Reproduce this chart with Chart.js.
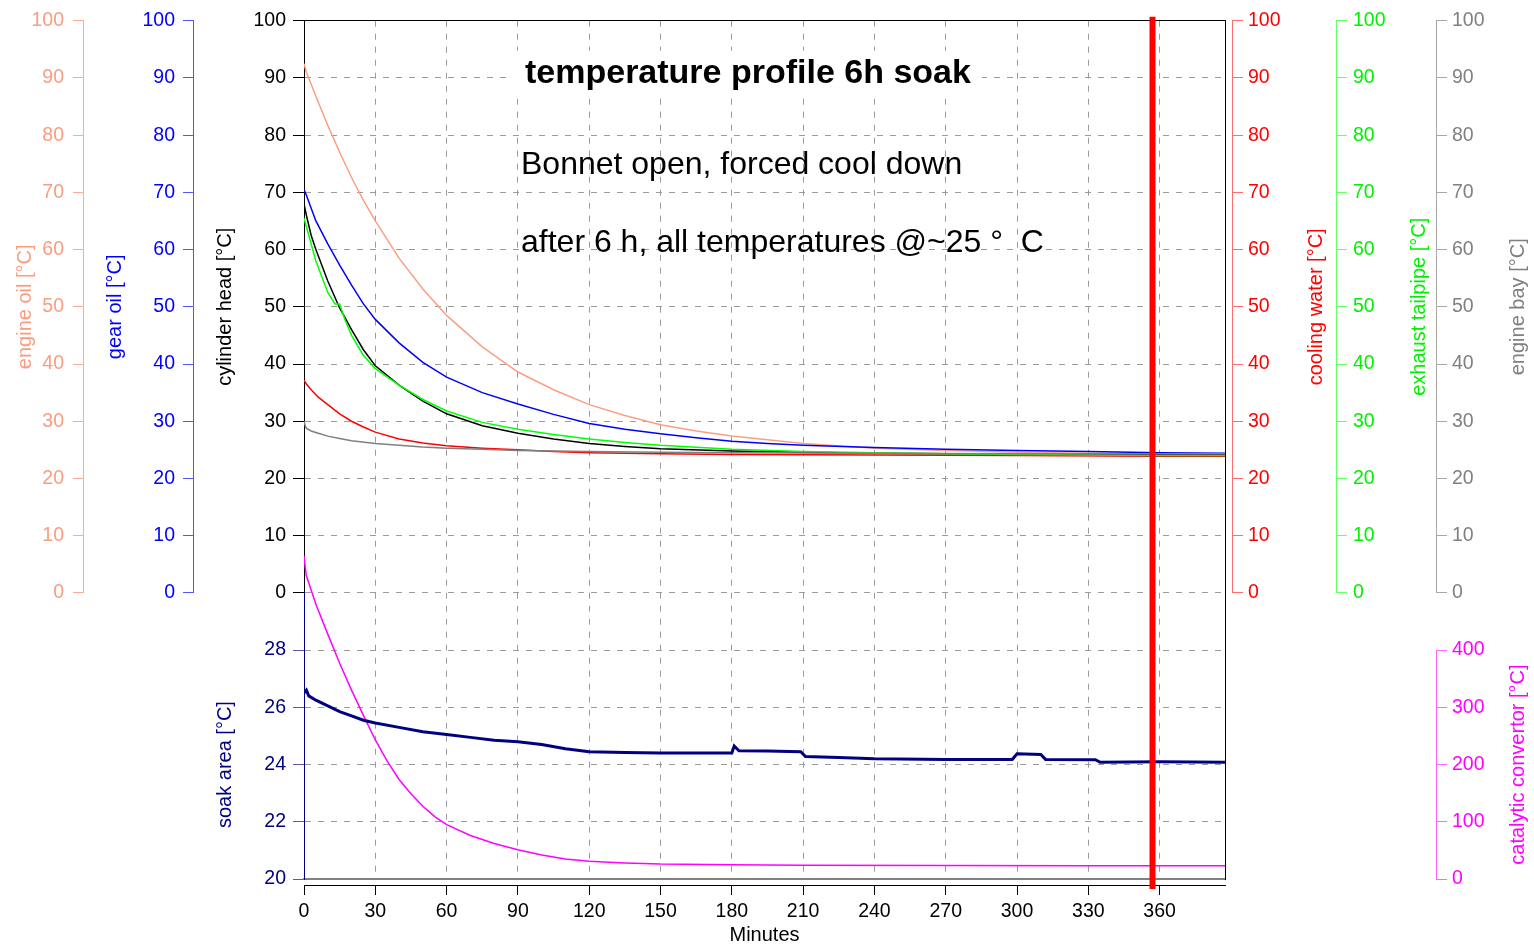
<!DOCTYPE html>
<html>
<head>
<meta charset="utf-8">
<title>temperature profile 6h soak</title>
<script src="https://cdn.jsdelivr.net/npm/chart.js@4.4.1/dist/chart.umd.min.js"></script>
<style>
  html, body { margin: 0; padding: 0; background: #fff; }
  #wrap { width: 1534px; height: 947px; }
</style>
</head>
<body>
<div id="wrap"><canvas id="myChart"></canvas></div>
<script>
// readings of the 6 h soak, time in minutes after engine off
const tEngineOil = [0, 1, 5, 10, 15, 20, 25, 30, 40, 50, 60, 75, 90, 105, 120, 135, 150, 165, 180, 210, 240, 270, 300, 330, 360, 388];
const engineOil  = [92.5, 91, 86.8, 81.7, 77.0, 72.6, 68.6, 65.0, 58.5, 53.1, 48.5, 43.0, 38.6, 35.5, 32.9, 31.0, 29.4, 28.3, 27.4, 26.1, 25.3, 24.9, 24.6, 24.4, 24.3, 24.3];

const tGearOil = [0, 1, 5, 10, 15, 20, 25, 30, 40, 50, 60, 75, 90, 105, 120, 135, 150, 165, 180, 195, 210, 240, 270, 300, 330, 360, 388];
const gearOil  = [70.5, 69.5, 65, 61, 57.3, 53.8, 50.5, 47.8, 43.7, 40.3, 37.7, 35.0, 33.0, 31.2, 29.6, 28.6, 27.8, 27.1, 26.5, 26.1, 25.8, 25.4, 25.1, 24.9, 24.7, 24.5, 24.4];

const tCylHead = [0, 1, 3, 5, 10, 15, 20, 25, 30, 40, 50, 60, 75, 90, 105, 120, 135, 150, 180, 210, 240, 270, 300, 330, 360, 388];
const cylHead  = [68, 66, 62.5, 60, 54.5, 49.8, 46, 42.5, 39.7, 36.3, 33.5, 31.3, 29.2, 27.9, 26.9, 26.1, 25.6, 25.2, 24.8, 24.6, 24.4, 24.3, 24.3, 24.2, 24.2, 24.2];

const tExhaust = [0, 1, 3, 5, 10, 13, 15, 17, 20, 25, 30, 40, 50, 60, 75, 90, 105, 120, 135, 150, 180, 210, 240, 270, 300, 330, 360, 388];
const exhaust  = [65.5, 64, 61, 58, 52.5, 50.5, 50.5, 48, 45, 41.5, 39.2, 36.3, 33.8, 31.8, 29.8, 28.6, 27.7, 26.9, 26.3, 25.8, 25.1, 24.7, 24.5, 24.3, 24.2, 24.1, 24.0, 24.0];

const tCooling = [0, 1, 3, 6, 10, 15, 20, 25, 30, 40, 50, 60, 75, 90, 105, 120, 150, 180, 240, 300, 360, 388];
const cooling  = [37.2, 36.5, 35.5, 34.2, 32.9, 31.3, 30.0, 29.0, 28.1, 26.9, 26.2, 25.7, 25.3, 25.0, 24.7, 24.5, 24.3, 24.2, 24.1, 24.0, 23.9, 23.9];

const tEngineBay = [0, 0.5, 1, 3, 6, 10, 15, 20, 30, 40, 50, 60, 75, 90, 105, 120, 150, 180, 240, 300, 360, 388];
const engineBay  = [30.0, 29.2, 28.8, 28.3, 27.9, 27.4, 27.0, 26.6, 26.1, 25.8, 25.5, 25.3, 25.1, 24.9, 24.8, 24.7, 24.6, 24.5, 24.4, 24.3, 24.3, 24.3];

const tSoak = [0, 1, 2, 5, 10, 15, 20, 25, 30, 40, 50, 60, 70, 80, 90, 100, 110, 120, 135, 150, 165, 180, 181, 183, 195, 209, 211, 225, 240, 270, 298, 300, 310, 312, 333, 335, 360, 388];
const soak  = [26.5, 26.6, 26.4, 26.25, 26.05, 25.85, 25.7, 25.55, 25.45, 25.3, 25.15, 25.05, 24.95, 24.85, 24.8, 24.7, 24.55, 24.45, 24.42, 24.4, 24.4, 24.4, 24.65, 24.48, 24.47, 24.45, 24.28, 24.25, 24.2, 24.18, 24.18, 24.38, 24.35, 24.18, 24.17, 24.08, 24.1, 24.08];

const tCatalyst = [0, 0.5, 1, 3, 5, 10, 15, 20, 25, 30, 35, 40, 45, 50, 55, 60, 70, 80, 90, 100, 110, 120, 135, 150, 180, 210, 270, 330, 388];
const catalyst  = [565, 545, 530, 505, 480, 428, 377, 330, 286, 243, 206, 174, 149, 127, 109, 95, 76, 62, 51, 42, 35, 31, 28, 26, 25, 24, 23.5, 23, 23];

const markerTime = 357;   // 6 h mark
const xMax = 387.5;

const heading = 'temperature profile 6h soak';
const notes = ['Bonnet open, forced cool down', 'after 6 h, all temperatures @~25 °  C'];

const FONT = "'Liberation Sans', Arial, sans-serif";
const GRID = '#9b9b9b';
const gridDash = ctx => ctx.type === 'tick' ? [6, 7] : [];
const none = 'rgba(0,0,0,0)';

Chart.defaults.font.family = FONT;

function pts(ts, vs) {
  return ts.map((t, i) => ({x: t, y: vs[i]}));
}

function line(label, ts, vs, color, yAxisID, width) {
  return {
    label: label,
    data: pts(ts, vs),
    borderColor: color,
    borderWidth: width || 1.5,
    pointRadius: 0,
    tension: 0,
    xAxisID: 'x',
    yAxisID: yAxisID
  };
}

// one 0..100 axis drawn beside the plot (ticks only, no grid inside)
function valueAxis(pos, stack, weight, width, color, lineColor, tickLen, pad) {
  return {
    type: 'linear', axis: 'y', position: pos, stack: stack, stackWeight: 2, weight: weight,
    min: 0, max: 100,
    afterFit: s => { s.width = width; },
    border: {color: lineColor, width: 1},
    grid: {drawOnChartArea: false, color: lineColor, tickColor: lineColor, tickLength: tickLen, tickBorderDash: []},
    ticks: {stepSize: 10, color: color, padding: pad, font: {size: 19.5}},
    title: {display: false}
  };
}

// empty lower half of a stack, keeps the upper axis off the soak panel
function padAxis(pos, stack, weight, width) {
  return {
    type: 'linear', axis: 'y', position: pos, stack: stack, stackWeight: 1, weight: weight,
    min: 0, max: 1, display: false,
    afterFit: s => { s.width = width; }
  };
}

function leftTitle(text, color, padTop) {
  return {display: true, text: text, color: color, font: {size: 20}, padding: {top: padTop, bottom: 0}};
}

const yOil = valueAxis('left', 'oil', 6, 83, '#F99D80', '#F8AC92', 10, 9);
yOil.title = leftTitle('engine oil [°C]', '#F99D80', 13);
const yGear = valueAxis('left', 'gear', 4, 110, '#0000FF', '#5555FF', 10, 8);
yGear.title = leftTitle('gear oil [°C]', '#0000FF', 20);
const yCyl = valueAxis('left', 'cyl', 2, 111, '#000', '#000', 11, 7);
yCyl.title = leftTitle('cylinder head [°C]', '#000', 20);
yCyl.grid = {
  drawOnChartArea: true,
  color: ctx => ctx.tick && ctx.tick.value === 100 ? none : GRID,
  tickColor: '#000', tickLength: 11, tickBorderDash: []
};
yCyl.border = {color: '#000', width: 1, dash: gridDash};

const ySoak = {
  type: 'linear', axis: 'y', position: 'left', stack: 'cyl', stackWeight: 1, weight: 1,
  min: 20, max: 30,
  afterFit: s => { s.width = 111; },
  afterBuildTicks: s => { s.ticks = s.ticks.filter(t => t.value < 30); },
  border: {color: '#000080', width: 1, dash: gridDash},
  grid: {
    color: ctx => ctx.tick && ctx.tick.value === 20 ? none : GRID,
    tickColor: '#5B5BA6', tickLength: 11, tickBorderDash: []
  },
  ticks: {stepSize: 2, color: '#000080', padding: 7, font: {size: 19.5}},
  title: {display: false}
};

const yCool = valueAxis('right', 'cool', 1, 104, '#FF0000', '#FF6E6E', 11, 5);
const yExh = valueAxis('right', 'exh', 3, 100, '#00F000', '#66FF66', 11, 6);
const yBay = valueAxis('right', 'bay', 5, 98, '#808080', '#A8A8A8', 11, 5);
const yCat = {
  type: 'linear', axis: 'y', position: 'right', stack: 'bay', stackWeight: 1, weight: 6,
  min: 0, max: 500,
  afterFit: s => { s.width = 98; },
  afterBuildTicks: s => { s.ticks = s.ticks.filter(t => t.value <= 400); },
  border: {display: false},
  grid: {drawOnChartArea: false, color: '#FF66FF', tickColor: '#FF66FF', tickLength: 11, tickBorderDash: []},
  ticks: {stepSize: 100, color: '#FF00FF', padding: 5, font: {size: 19.5}},
  title: {display: false}
};

// titles on the right side and the soak panel read bottom to top like the left ones
const sideTitles = [
  {id: 'yCool', text: 'cooling water [°C]', color: '#FF0000', mid: 50, dx: 84},
  {id: 'yExh', text: 'exhaust tailpipe [°C]', color: '#00F000', mid: 50, dx: 83},
  {id: 'yBay', text: 'engine bay [°C]', color: '#808080', mid: 50, dx: 82},
  {id: 'yCat', text: 'catalytic convertor [°C]', color: '#FF00FF', mid: 200, dx: 82},
  {id: 'ySoak', text: 'soak area [°C]', color: '#000080', mid: 24, dx: 32}
];

const overlay = {
  id: 'overlay',
  afterDatasetsDraw(chart) {
    const {ctx, chartArea, scales} = chart;
    ctx.save();

    // heading sits on a white box over the grid
    ctx.font = 'bold 34px ' + FONT;
    ctx.textBaseline = 'alphabetic';
    ctx.textAlign = 'left';
    const hx = chartArea.left + 221, hy = chartArea.top + 62;
    const hw = ctx.measureText(heading).width;
    ctx.fillStyle = '#fff';
    ctx.fillRect(hx - 13, hy - 32, hw + 24, 46);
    ctx.fillStyle = '#000';
    ctx.fillText(heading, hx, hy);

    ctx.font = '32px ' + FONT;
    ctx.fillText(notes[0], chartArea.left + 217, chartArea.top + 153);
    ctx.fillText(notes[1], chartArea.left + 217, chartArea.top + 231);

    // 6 h marker
    const mx = scales.x.getPixelForValue(markerTime);
    ctx.strokeStyle = '#FF0000';
    ctx.lineWidth = 6;
    ctx.beginPath();
    ctx.moveTo(mx, chartArea.top - 4);
    ctx.lineTo(mx, chartArea.bottom + 10);
    ctx.stroke();
    ctx.restore();
  },
  afterDraw(chart) {
    const {ctx, scales} = chart;
    ctx.save();

    // catalytic axis line only over its labelled range
    const cat = scales.yCat;
    const cx = Math.round(cat.left) + 0.5;
    ctx.strokeStyle = '#FF66FF';
    ctx.lineWidth = 1;
    ctx.beginPath();
    ctx.moveTo(cx, cat.getPixelForValue(400));
    ctx.lineTo(cx, cat.getPixelForValue(0));
    ctx.stroke();

    ctx.font = '20px ' + FONT;
    ctx.textAlign = 'center';
    ctx.textBaseline = 'middle';
    sideTitles.forEach(st => {
      const s = scales[st.id];
      ctx.save();
      ctx.translate(s.left + st.dx, s.getPixelForValue(st.mid));
      ctx.rotate(-Math.PI / 2);
      ctx.fillStyle = st.color;
      ctx.fillText(st.text, 0, 0);
      ctx.restore();
    });
    ctx.restore();
  }
};

const ctx = document.getElementById('myChart').getContext('2d');
const myChart = new Chart(ctx, {
  type: 'line',
  data: {
    datasets: [
      line('engine bay', tEngineBay, engineBay, '#808080', 'yBay'),
      line('exhaust tailpipe', tExhaust, exhaust, '#00FF00', 'yExh'),
      line('cooling water', tCooling, cooling, '#FF0000', 'yCool'),
      line('cylinder head', tCylHead, cylHead, '#000000', 'yCyl'),
      line('gear oil', tGearOil, gearOil, '#0000FF', 'yGear'),
      line('engine oil', tEngineOil, engineOil, '#F9A083', 'yOil'),
      line('soak area', tSoak, soak, '#000080', 'ySoak', 3),
      Object.assign(line('catalytic convertor', tCatalyst, catalyst, '#FF00FF', 'yCat'),
        {clip: {left: 0, top: 60, right: 0, bottom: 0}})
    ]
  },
  options: {
    responsive: true,
    maintainAspectRatio: false,
    animation: false,
    events: [],
    layout: {padding: {top: 17, left: 0, right: 0, bottom: 0}},
    plugins: {
      legend: {display: false},
      tooltip: {enabled: false},
      title: {display: false}
    },
    scales: {
      x: {
        type: 'linear', axis: 'x', position: 'bottom', weight: 1,
        min: 0, max: xMax,
        afterFit: s => { s.height = 62; },
        border: {color: '#000', width: 1, dash: gridDash},
        grid: {color: GRID, tickColor: '#000', tickLength: 10, tickBorderDash: []},
        ticks: {stepSize: 30, includeBounds: false, color: '#000', padding: 5, font: {size: 19.5}},
        title: {display: true, text: 'Minutes', color: '#000', font: {size: 20}, padding: {top: 0, bottom: 0}}
      },
      xGap: {
        type: 'linear', axis: 'x', position: 'bottom', weight: 0, min: 0, max: 1,
        afterFit: s => { s.height = 6; },
        border: {color: '#808080', width: 2},
        grid: {display: false},
        ticks: {display: false}
      },
      xTop: {
        type: 'linear', axis: 'x', position: 'top', min: 0, max: 1,
        afterFit: s => { s.height = 0; },
        border: {color: '#000', width: 1},
        grid: {display: false},
        ticks: {display: false}
      },
      yOil: yOil,
      yOilPad: padAxis('left', 'oil', 5, 83),
      yGear: yGear,
      yGearPad: padAxis('left', 'gear', 3, 110),
      yCyl: yCyl,
      ySoak: ySoak,
      yEdge: {
        type: 'linear', axis: 'y', position: 'right', weight: 0, min: 0, max: 1,
        afterFit: s => { s.width = 7; },
        border: {color: '#000', width: 1},
        grid: {display: false},
        ticks: {display: false}
      },
      yCool: yCool,
      yCoolPad: padAxis('right', 'cool', 2, 104),
      yExh: yExh,
      yExhPad: padAxis('right', 'exh', 4, 100),
      yBay: yBay,
      yCat: yCat
    }
  },
  plugins: [overlay]
});
</script>
</body>
</html>
